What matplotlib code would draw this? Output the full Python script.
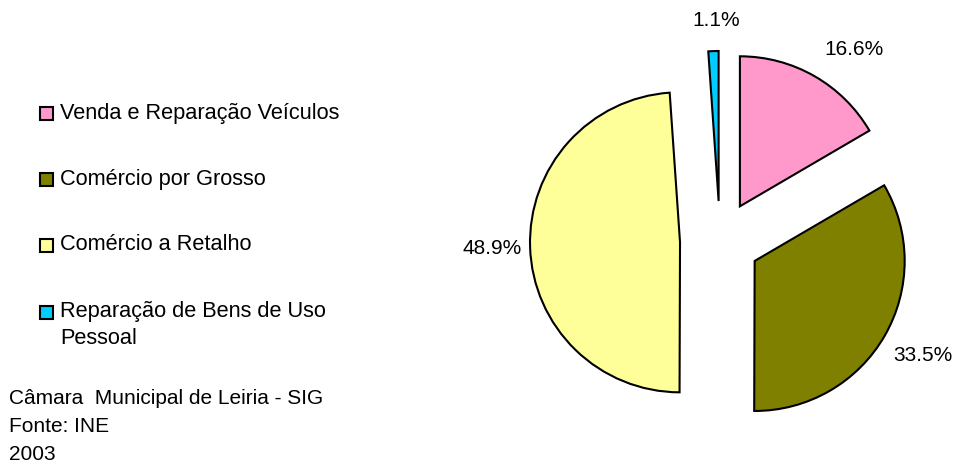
import matplotlib
matplotlib.use("Agg")
import matplotlib.pyplot as plt
from matplotlib.patches import Rectangle

plt.rcParams['font.family'] = ['Liberation Sans', 'DejaVu Sans']

categories = ["Venda e Reparação Veículos", "Comércio por Grosso",
              "Comércio a Retalho", "Reparação de Bens de Uso\nPessoal"]
values = [16.6, 33.5, 48.9, 1.1]
colors = ["#FF99CC", "#808000", "#FFFF99", "#00CCFF"]
title = "Concelho de Leiria"
footer = ["Câmara  Municipal de Leiria - SIG", "Fonte: INE", "2003"]

W, H = 955, 467
FS = 15
FS_LEG = 15.7
fig = plt.figure(figsize=(W / 100, H / 100), dpi=100)
ax = fig.add_axes([0, 0, 1, 1])

cx, cy = 720, H - 241
radius = 150
explode = [40] * len(values)

wedges, texts, autotexts = ax.pie(
    values, colors=colors, startangle=90, counterclock=False,
    explode=explode, radius=radius, center=(cx, cy), frame=True,
    autopct='%1.1f%%', pctdistance=1.31,
    wedgeprops=dict(edgecolor='black', linewidth=1.5),
    textprops=dict(fontsize=FS, color='black'))
# nudge labels (pixels) to match original placement
nudges = [(16, -14), (-2, 4), (8, 0), (4, -16)]
for t, (dx, dy) in zip(autotexts, nudges):
    x0, y0 = t.get_position()
    t.set_position((x0 + dx, y0 + dy))

ax.set_xlim(0, W)
ax.set_ylim(0, H)
ax.axis('off')

# title (partly clipped at top, as in the original)
ax.text(458, H + 14, title, ha='center', va='center', fontsize=16,
        fontweight='bold', clip_on=False)

# legend
leg_y = [113, 179, 245, 325]
for lab, col, y in zip(categories, colors, leg_y):
    sq_y = y if '\n' not in lab else 312
    ax.add_patch(Rectangle((40, H - sq_y - 6.5), 13, 13, facecolor=col,
                           edgecolor='black', linewidth=1.5))
    ax.text(60, H - y, lab, ha='left', va='center', fontsize=FS_LEG, linespacing=1.35)

for i, line in enumerate(footer):
    ax.text(9, H - (399 + 28 * i), line, ha='left', va='center', fontsize=FS)

fig.savefig("out.png", dpi=100)
